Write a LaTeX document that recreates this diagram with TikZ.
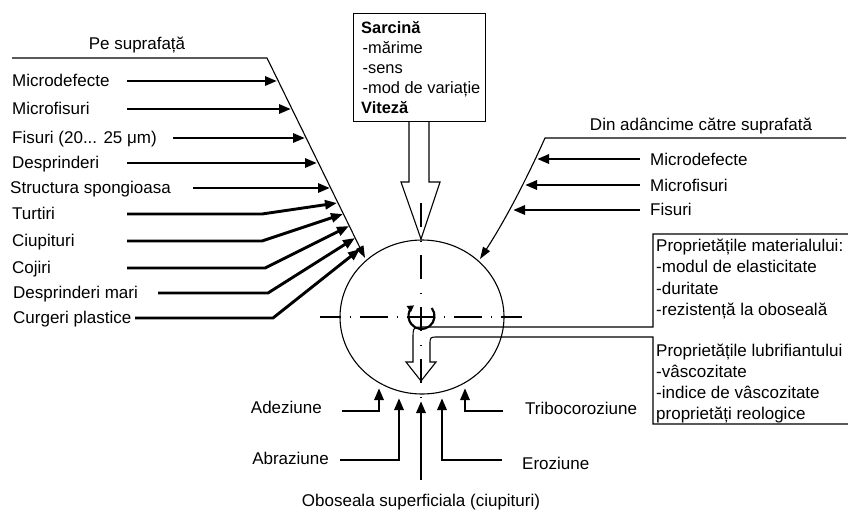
\documentclass[tikz,border=0pt]{standalone}
\usepackage{fontspec}
\setmainfont{Liberation Sans}
\usetikzlibrary{arrows.meta,shapes.geometric}
\begin{document}
\begin{tikzpicture}[x=1pt,y=-1pt,
  lbl/.style={font=\fontsize{17}{20}\selectfont, inner sep=0pt, text height=12pt, text depth=0pt},
  blk/.style={font=\fontsize{17}{20}\selectfont, inner sep=0pt, anchor=base west},
  thinln/.style={line width=1.1pt},
  fatarrow/.style={line width=2.9pt, -{Triangle[length=12pt,width=9pt]}},
  thinarrow/.style={line width=1.1pt, -{Triangle[length=12pt,width=8pt]}},
  axisln/.style={line width=1.1pt}]
\useasboundingbox (0,0) rectangle (848,512);

% ---------- circle ----------
\node[draw, thinln, ellipse, minimum width=164pt, minimum height=154pt, inner sep=0pt] (circ) at (422,317) {};

% axes
\draw[axisln, dash pattern=on 28pt off 9pt on 1pt off 9pt, dash phase=7pt] (320,317) -- (522,317);
\draw[axisln, dash pattern=on 24pt off 14pt on 1pt off 13pt] (421,203) -- (421,399);

% rotation symbol
\draw[line width=2.2pt, -{Triangle[length=6.5pt,width=7pt]}] (421.5,316) ++(-38:13) arc[start angle=-38, end angle=235, radius=13];

% ---------- left group ----------
\node[lbl] (pe) at (137,43) {Pe suprafață};
\coordinate (lc) at (267,58);
\draw[thinarrow] (12,58) -- (lc) -- (365,258);

\node[lbl, anchor=west] (l1) at (12,80) {Microdefecte};
\node[lbl, anchor=west] (l2) at (12,108) {Microfisuri};
\node[lbl, anchor=west] (l3) at (12,137) {Fisuri (20... 25 μm)};
\node[lbl, anchor=west] (l4) at (12,162) {Desprinderi};
\node[lbl, anchor=west] (l5) at (10,187) {Structura spongioasa};
\node[lbl, anchor=west] (l6) at (12,213) {Turtiri};
\node[lbl, anchor=west] (l7) at (12,240) {Ciupituri};
\node[lbl, anchor=west] (l8) at (12,267) {Cojiri};
\node[lbl, anchor=west] (l9) at (13,292) {Desprinderi mari};
\node[lbl, anchor=west] (l10) at (13,317) {Curgeri plastice};

\draw[fatarrow] (127,81) -- (277,81);
\draw[fatarrow] (127,109) -- (291,109);
\draw[fatarrow] (173,138) -- (305,138);
\draw[fatarrow] (127,163) -- (317,163);
\draw[fatarrow] (193,188) -- (330,188);
\draw[fatarrow] (127,214) -- (262,214) -- (337,203);
\draw[fatarrow] (127,241) -- (262,241) -- (343,214);
\draw[fatarrow] (127,268) -- (265,268) -- (349,226);
\draw[fatarrow] (158,293) -- (268,293) -- (355,238);
\draw[fatarrow] (135,318) -- (273,318) -- (360,249);

% ---------- top box and load arrow ----------
\node[draw, thinln, anchor=north west, minimum width=132pt, minimum height=108pt, inner sep=0pt] (sarc) at (353,13) {};
\node[blk] (sarctext) at (361,33) {\parbox[t]{200pt}{\raggedright\fontsize{16.4}{20.2}\selectfont
  \textbf{Sarcină}\\
  \hspace*{1.5pt}-mărime\\
  \hspace*{1.5pt}-sens\\
  \hspace*{1.5pt}-mod de variație\\
  \textbf{Viteză}}};
\draw[thinln] (409,121) -- (409,182) -- (401,182) -- (421,239) -- (440,182) -- (429,182) -- (429,121);

% ---------- right group ----------
\node[lbl] (din) at (701,124) {Din adâncime către suprafată};
\draw[thinarrow] (846,138) -- (545,138) .. controls (527,178) and (506,219) .. (480,259);
\node[lbl, anchor=west] (r1) at (650,159) {Microdefecte};
\node[lbl, anchor=west] (r2) at (650,185) {Microfisuri};
\node[lbl, anchor=west] (r3) at (650,209) {Fisuri};
\draw[fatarrow] (640,159) -- (537,159);
\draw[fatarrow] (640,185) -- (525,185);
\draw[fatarrow] (640,210) -- (513,210);

% ---------- property boxes and outlined arrow ----------
\node[blk] (mat) at (656,251) {\parbox[t]{200pt}{\raggedright\fontsize{17}{21.6}\selectfont
  Proprietățile materialului:\\
  -modul de elasticitate\\
  -duritate\\
  -rezistență la oboseală}};
\node[blk] (lub) at (656,356) {\parbox[t]{200pt}{\raggedright\fontsize{17}{21}\selectfont
  Proprietățile lubrifiantului\\
  -vâscozitate\\
  -indice de vâscozitate\\
  proprietăți reologice}};
\draw[thinln] (848,234) -- (653,234) -- (653,327) -- (425,327)
  .. controls (413,327) .. (413,339) -- (413,362) -- (406,362) -- (421,381)
  -- (436,362) -- (430,362) -- (430,345) .. controls (430,337) .. (438,337)
  -- (653,337) -- (653,424) -- (848,424);

% ---------- bottom group ----------
\node[lbl, anchor=east] (ad) at (322,407) {Adeziune};
\node[lbl, anchor=east] (ab) at (329,458) {Abraziune};
\node[lbl] (ob) at (421,500) {Oboseala superficiala (ciupituri)};
\node[lbl, anchor=west] (er) at (522,463) {Eroziune};
\node[lbl, anchor=west] (tr) at (525,408) {Tribocoroziune};
\draw[fatarrow] (342,411) -- (379,411) -- (379,388);
\draw[fatarrow] (340,460) -- (399,460) -- (399,398);
\draw[fatarrow] (421,480) -- (421,401);
\draw[fatarrow] (502,460) -- (442,460) -- (442,398);
\draw[fatarrow] (503,411) -- (465,411) -- (465,388);
\end{tikzpicture}
\end{document}
